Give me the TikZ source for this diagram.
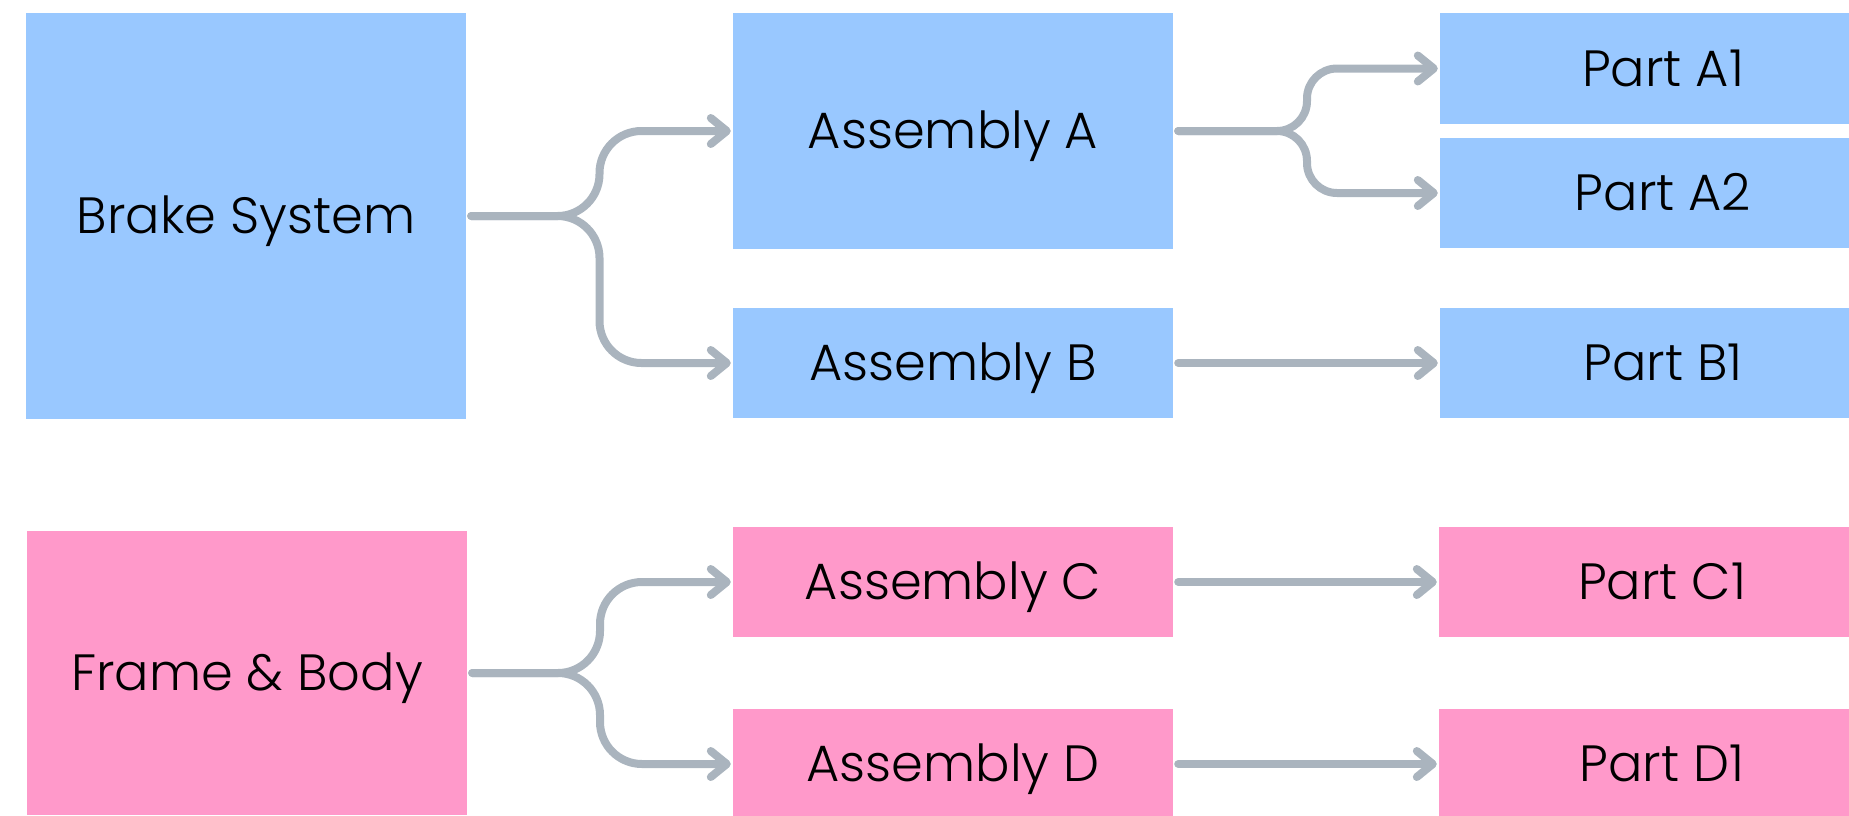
\documentclass[tikz,border=0pt]{standalone}
\usepackage{fontspec}
\setmainfont{Poppins}[UprightFont=* Light]
\usetikzlibrary{arrows.meta}
\definecolor{boxblue}{HTML}{99C8FF}
\definecolor{boxpink}{HTML}{FF99CA}
\definecolor{linkgray}{HTML}{AAB4BE}
\tikzset{
 blk/.style={fill=#1, inner sep=0pt, minimum width=440pt, text=black, font=\fontsize{51}{61}\selectfont, text height=35.5pt, text depth=0pt},
 link/.style={draw=linkgray, line width=8pt, line cap=round, rounded corners=#1, shorten <=5pt, shorten >=2pt, -{Straight Barb[length=16pt,width=26pt,round]}},
 link/.default=42pt
}
\begin{document}
\begin{tikzpicture}[x=1pt,y=-1pt]
 \useasboundingbox (0,0) rectangle (1849,815);
 \clip (0,0) rectangle (1849,815);

 \node [blk=boxblue, minimum height=406pt] (brake) at (246,216) {Brake System};
 \node [blk=boxblue, minimum height=236pt] (asmA) at (953,131) {Assembly A};
 \node [blk=boxblue, minimum height=110pt] (asmB) at (953,363) {Assembly B};
 \node [blk=boxblue, minimum width=446pt, minimum height=111pt] (partA1) at (1663,68.5) {Part A1};
 \node [blk=boxblue, minimum width=446pt, minimum height=110pt] (partA2) at (1663,193) {Part A2};
 \node [blk=boxblue, minimum width=446pt, minimum height=110pt] (partB1) at (1663,363) {Part B1};

 \node [blk=boxpink, minimum height=284pt] (frame) at (247,673) {Frame \& Body};
 \node [blk=boxpink, minimum height=110pt] (asmC) at (953,582) {Assembly C};
 \node [blk=boxpink, minimum height=110pt] (asmD) at (953,764) {Assembly D};
 \node [blk=boxpink, minimum width=446pt, minimum height=110pt] (partC1) at (1662,582) {Part C1};
 \node [blk=boxpink, minimum width=446pt, minimum height=110pt] (partD1) at (1662,764) {Part D1};

 \coordinate (bj) at (599.5,216);
 \coordinate (aj) at (1307,131);
 \coordinate (fj) at (600,673);

 \draw[link] (brake.east) -- (bj) |- (asmA.west);
 \draw[link] (brake.east) -- (bj) |- (asmB.west);
 \draw[link=30pt] (asmA.east) -- (aj) |- (partA1.west);
 \draw[link=30pt] (asmA.east) -- (aj) |- (partA2.west);
 \draw[link] (asmB.east) -- (partB1.west);

 \draw[link] (frame.east) -- (fj) |- (asmC.west);
 \draw[link] (frame.east) -- (fj) |- (asmD.west);
 \draw[link] (asmC.east) -- (partC1.west);
 \draw[link] (asmD.east) -- (partD1.west);
\end{tikzpicture}
\end{document}
